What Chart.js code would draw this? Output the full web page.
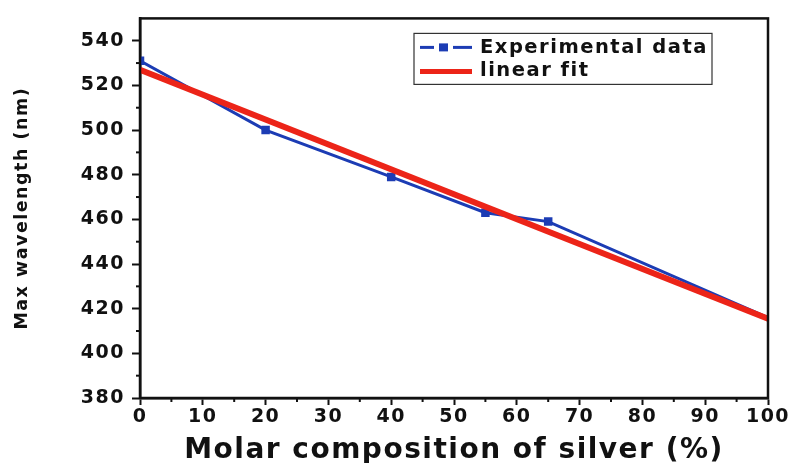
<!DOCTYPE html>
<html>
<head>
<meta charset="utf-8">
<script src="https://cdn.jsdelivr.net/npm/chart.js@4/dist/chart.umd.min.js"></script>
<style>
html,body{margin:0;padding:0;background:#fff;}
#wrap{width:795px;height:463px;position:relative;}
</style>
</head>
<body>
<div id="wrap"><canvas id="c" width="795" height="463"></canvas></div>
<script>
// Data
const composition = [0, 20, 40, 55, 65, 100];
const wavelength = [531, 500, 479, 463, 459, 416];
const fitX = [0, 100];
const fitY = [527, 415.5];
const seriesLabels = ['Experimental data', 'linear fit'];
const xTitle = 'Molar composition of silver (%)';
const yTitle = 'Max wavelength (nm)';

const FONT = "'DejaVu Sans', 'Liberation Sans', Arial, sans-serif";
const BLUE = '#1c3cb4';
const RED = '#ec2418';

const spacingPlugin = {
  id: 'spacing',
  beforeUpdate(chart) { chart.ctx.letterSpacing = '1.5px'; },
  beforeDraw(chart) { chart.ctx.letterSpacing = '1.5px'; }
};

const framePlugin = {
  id: 'frame',
  afterDatasetsDraw(chart) {
    const {ctx, chartArea: a, scales} = chart;
    ctx.save();
    // minor ticks
    ctx.strokeStyle = '#111';
    ctx.lineWidth = 2;
    for (let v = 5; v < 100; v += 10) {
      const x = scales.x.getPixelForValue(v);
      ctx.beginPath(); ctx.moveTo(x, a.bottom); ctx.lineTo(x, a.bottom + 4); ctx.stroke();
    }
    for (let v = 390; v < 550; v += 20) {
      const y = scales.y.getPixelForValue(v);
      ctx.beginPath(); ctx.moveTo(a.left, y); ctx.lineTo(a.left - 4, y); ctx.stroke();
    }
    // frame
    ctx.lineWidth = 2.5;
    ctx.strokeStyle = '#111';
    ctx.strokeRect(a.left, a.top, a.right - a.left, a.bottom - a.top);
    // legend
    const lx = a.left + 274, ly = a.top + 15, lw = 298, lh = 51;
    ctx.fillStyle = '#fff';
    ctx.fillRect(lx, ly, lw, lh);
    ctx.lineWidth = 1.2;
    ctx.strokeStyle = '#333';
    ctx.strokeRect(lx, ly, lw, lh);
    const ds = chart.data.datasets;
    ctx.font = 'bold 19.5px ' + FONT;
    ctx.textBaseline = 'middle';
    ctx.fillStyle = '#111';
    // entry 1
    let y1 = ly + 14;
    ctx.strokeStyle = ds[0].borderColor;
    ctx.lineWidth = 3;
    ctx.beginPath(); ctx.moveTo(lx + 6, y1); ctx.lineTo(lx + 20, y1); ctx.stroke();
    ctx.beginPath(); ctx.moveTo(lx + 39, y1); ctx.lineTo(lx + 58, y1); ctx.stroke();
    ctx.fillStyle = ds[0].borderColor;
    ctx.fillRect(lx + 25, y1 - 4, 9, 8);
    ctx.fillStyle = '#111';
    ctx.fillText(ds[0].label, lx + 66, y1 + 1);
    // entry 2
    let y2 = ly + 38;
    ctx.strokeStyle = ds[1].borderColor;
    ctx.lineWidth = 5;
    ctx.beginPath(); ctx.moveTo(lx + 6, y2); ctx.lineTo(lx + 58, y2); ctx.stroke();
    ctx.fillText(ds[1].label, lx + 66, y2);
    ctx.restore();
  }
};

new Chart(document.getElementById('c'), {
  type: 'scatter',
  data: {
    datasets: [
      {
        label: seriesLabels[0],
        data: composition.map((x, i) => ({x, y: wavelength[i]})),
        showLine: true,
        borderColor: BLUE,
        backgroundColor: BLUE,
        borderWidth: 3,
        pointStyle: 'rect',
        pointRadius: (c) => c.dataIndex === composition.length - 1 ? 0 : 6,
        pointBorderWidth: 0,
        tension: 0,
        order: 2
      },
      {
        label: seriesLabels[1],
        data: fitX.map((x, i) => ({x, y: fitY[i]})),
        showLine: true,
        borderColor: RED,
        backgroundColor: RED,
        borderWidth: 6,
        pointRadius: 0,
        order: 1
      }
    ]
  },
  options: {
    responsive: false,
    animation: false,
    layout: {padding: {left: 0, right: 27, top: 17, bottom: 0}},
    plugins: {legend: {display: false}, tooltip: {enabled: false}},
    scales: {
      x: {
        type: 'linear', min: 0, max: 100,
        ticks: {stepSize: 10, color: '#111', font: {family: FONT, size: 19, weight: 'bold'}, padding: 1, maxRotation: 0},
        grid: {display: true, drawOnChartArea: false, tickLength: 7, tickWidth: 2, tickColor: '#111'},
        border: {display: true, color: '#111', width: 2.5},
        title: {display: true, text: xTitle, color: '#111', font: {family: FONT, size: 28, weight: 'bold', lineHeight: 0.9}, padding: {top: 0, bottom: 0}},
        afterFit(s) { s.height = 65; }
      },
      y: {
        type: 'linear', min: 380, max: 550,
        afterBuildTicks(s) { s.ticks = s.ticks.filter(t => t.value <= 540); },
        ticks: {stepSize: 20, color: '#111', font: {family: FONT, size: 19, weight: 'bold'}, padding: 7},
        grid: {display: true, drawOnChartArea: false, tickLength: 8, tickWidth: 2, tickColor: '#111'},
        border: {display: true, color: '#111', width: 2.5},
        title: {display: true, text: yTitle, color: '#111', font: {family: FONT, size: 17.5, weight: 'bold'}, padding: {top: 12, bottom: 4}},
        afterFit(s) { s.width = 140; }
      }
    }
  },
  plugins: [spacingPlugin, framePlugin]
});
</script>
</body>
</html>
